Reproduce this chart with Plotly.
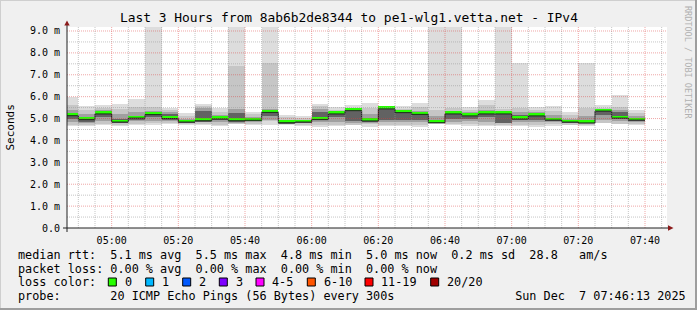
import plotly.graph_objects as go
import pandas as pd

# ---------------- data ----------------
bar_start = pd.date_range("2025-12-07 04:45:00", periods=35, freq="5min")
# per-interval ping distribution (ms): min, inner bands, median, max
p_min = [4.66, 4.66, 4.70, 4.66, 4.70, 4.72, 4.74, 4.70, 4.70, 4.66, 4.74, 4.70, 4.70, 4.70, 4.66, 4.63, 4.66, 4.70,
         4.63, 4.66, 4.66, 4.63, 4.74, 4.70, 4.66, 4.66, 4.66, 4.66, 4.63, 4.66, 4.70, 4.66, 4.78, 4.74, 4.70]
l2_lo = [4.72, 4.72, 4.76, 4.72, 4.76, 4.78, 4.80, 4.74, 4.76, 4.72, 4.76, 4.75, 4.90, 4.74, 4.72, 4.70, 4.72, 4.72,
         4.74, 4.72, 4.72, 4.70, 4.76, 4.75, 4.74, 4.72, 4.72, 4.72, 4.72, 4.75, 4.72, 4.72, 4.80, 4.76, 4.76]
l3_lo = [4.85, 4.80, 4.90, 4.78, 4.88, 4.90, 4.88, 4.78, 4.84, 4.85, 4.80, 4.84, 4.95, 4.77, 4.78, 4.85, 4.85, 4.80,
         4.80, 4.82, 4.85, 4.85, 4.78, 4.85, 4.88, 4.85, 4.78, 4.85, 4.85, 4.82, 4.78, 4.76, 4.95, 4.88, 4.84]
l4_lo = [5.00, 4.86, 5.08, 4.80, 4.95, 5.05, 4.92, 4.80, 4.86, 4.92, 4.85, 4.88, 5.10, 4.79, 4.81, 4.92, 5.05, 4.90,
         4.84, 4.95, 4.95, 4.95, 4.79, 5.00, 5.00, 5.05, 4.80, 4.92, 4.95, 4.88, 4.80, 4.78, 5.15, 4.98, 4.88]
median = [5.13, 4.95, 5.21, 4.84, 5.02, 5.18, 5.00, 4.84, 4.90, 4.98, 4.90, 4.92, 5.28, 4.81, 4.84, 4.95, 5.21, 5.36,
          4.89, 5.44, 5.27, 5.19, 4.81, 5.21, 5.12, 5.21, 5.21, 4.98, 5.12, 4.93, 4.84, 4.80, 5.34, 5.02, 4.93]
l4_hi = [5.25, 5.08, 5.30, 5.00, 5.12, 5.25, 5.20, 4.92, 5.35, 5.05, 5.25, 5.00, 5.40, 4.88, 4.90, 5.30, 5.25, 5.34,
         5.00, 5.46, 5.30, 5.25, 4.95, 5.27, 5.20, 5.30, 5.22, 5.15, 5.20, 5.02, 4.92, 4.92, 5.38, 5.30, 5.00]
l3_hi = [5.40, 5.20, 5.38, 5.20, 5.30, 5.35, 5.30, 5.00, 5.50, 5.15, 5.45, 5.08, 5.45, 4.95, 4.95, 5.45, 5.30, 5.42,
         5.20, 5.48, 5.35, 5.35, 5.10, 5.35, 5.30, 5.40, 5.30, 5.30, 5.30, 5.15, 5.00, 5.10, 5.42, 5.40, 5.10]
l2_hi = [5.62, 5.40, 5.50, 5.45, 5.55, 5.55, 5.40, 5.12, 5.58, 5.30, 7.40, 5.20, 7.55, 5.05, 5.02, 5.58, 5.40, 5.50,
         5.50, 5.52, 5.45, 5.55, 5.40, 5.50, 5.40, 5.60, 5.45, 5.50, 5.40, 5.35, 5.15, 5.50, 5.50, 5.55, 5.25]
p_max = [5.97, 5.57, 5.62, 5.66, 5.89, 9.60, 5.50, 5.24, 5.66, 5.47, 9.60, 5.31, 9.60, 5.16, 5.12, 5.66, 5.54, 5.62,
         5.70, 5.57, 5.57, 5.73, 9.60, 9.60, 5.51, 5.85, 9.60, 7.54, 5.51, 5.57, 5.30, 7.54, 5.62, 6.07, 5.39]

y_ticks = [0, 1, 2, 3, 4, 5, 6, 7, 8, 9]
y_ticktext = ["0.0", "1.0 m", "2.0 m", "3.0 m", "4.0 m", "5.0 m", "6.0 m", "7.0 m", "8.0 m", "9.0 m"]
x_ticks = pd.date_range("2025-12-07 05:00", "2025-12-07 07:40", freq="20min")
x_ticktext = [t.strftime("%H:%M") for t in x_ticks]

title = "Last 3 Hours from 8ab6b2de8344 to pe1-wlg1.vetta.net - IPv4"
legend_lines = [
    "median rtt:  5.1 ms avg  5.5 ms max  4.8 ms min  5.0 ms now  0.2 ms sd  28.8   am/s",
    "packet loss: 0.00 % avg  0.00 % max  0.00 % min  0.00 % now",
    "loss color:",
    "probe:       20 ICMP Echo Pings (56 Bytes) every 300s                 Sun Dec  7 07:46:13 2025",
]
loss_labels = ["0", "1", "2", "3", "4-5", "6-10", "11-19", "20/20"]
loss_colors = ["#26ff00", "#00b8ff", "#0059ff", "#7e00ff", "#ff00ff", "#ff5500", "#ff0000", "#a00000"]

# ---------------- layout constants ----------------
W, H = 697, 310
L, R, T, B = 67, 30, 27, 82
PW, PH = W - L - R, H - T - B
MONO = "DejaVu Sans Mono"


def px(x):
    return (x - L) / PW


def py(y):
    return (H - B - y) / PH


fig = go.Figure()
bar_w = 5 * 60 * 1000
layers = [(p_min, p_max, "#dddddd"), (l2_lo, l2_hi, "#c6c6c6"),
          (l3_lo, l3_hi, "#a0a0a0"), (l4_lo, l4_hi, "#626262")]
for lo, hi, col in layers:
    fig.add_trace(go.Bar(x=bar_start, base=lo, y=[h - l for l, h in zip(lo, hi)],
                         width=bar_w, offset=0, marker=dict(color=col, line=dict(width=0)),
                         hoverinfo="skip", showlegend=False))

# median step line (dark) and loss-coloured median band
end_t = bar_start[-1] + pd.Timedelta(minutes=5)
fig.add_trace(go.Scatter(x=list(bar_start) + [end_t], y=median + [median[-1]], mode="lines",
                         line=dict(color="#202020", width=1, shape="hv"), hoverinfo="skip", showlegend=False))
fig.add_trace(go.Bar(x=bar_start, base=[m - 0.015 for m in median], y=[0.13] * len(median),
                     width=bar_w, offset=0, marker=dict(color=loss_colors[0], line=dict(width=0)),
                     hoverinfo="skip", showlegend=False))

shapes = []
# grid on top of the data (dotted)
minor_c = "rgba(150,150,150,0.55)"
major_c = "rgba(220,60,60,0.45)"
for t in pd.date_range("2025-12-07 04:50", "2025-12-07 07:45", freq="5min"):
    c = major_c if t.minute % 20 == 0 else minor_c
    shapes.append(dict(type="line", xref="x", yref="paper", x0=t, x1=t, y0=0, y1=1,
                       line=dict(color=c, width=1, dash="1px,1px"), layer="above"))
for i in range(1, 19):
    v = i * 0.5
    c = major_c if i % 2 == 0 else minor_c
    shapes.append(dict(type="line", xref="paper", yref="y", x0=0, x1=1, y0=v, y1=v,
                       line=dict(color=c, width=1, dash="1px,1px"), layer="above"))

# axes lines + arrows
axis_c = "#202020"
arrow_c = "#8b1a1a"
shapes.append(dict(type="line", xref="paper", yref="paper", x0=px(67), x1=px(67), y0=py(232), y1=py(24),
                   line=dict(color=axis_c, width=1), layer="above"))
shapes.append(dict(type="line", xref="paper", yref="paper", x0=px(63), x1=px(670), y0=py(228), y1=py(228),
                   line=dict(color=axis_c, width=1), layer="above"))
shapes.append(dict(type="path", xref="paper", yref="paper",
                   path=f"M {px(64.3)},{py(25.5)} L {px(69.7)},{py(25.5)} L {px(67)},{py(20.5)} Z",
                   fillcolor=arrow_c, line=dict(width=0), layer="above"))
shapes.append(dict(type="path", xref="paper", yref="paper",
                   path=f"M {px(668)},{py(225.3)} L {px(668)},{py(230.7)} L {px(673.5)},{py(228)} Z",
                   fillcolor=arrow_c, line=dict(width=0), layer="above"))

# frame of the image
shapes.append(dict(type="line", xref="paper", yref="paper", x0=px(0), x1=px(W), y0=py(0.5), y1=py(0.5),
                   line=dict(color="#cfcfcf", width=1)))
shapes.append(dict(type="line", xref="paper", yref="paper", x0=px(0.5), x1=px(0.5), y0=py(0), y1=py(H),
                   line=dict(color="#cfcfcf", width=1)))
shapes.append(dict(type="line", xref="paper", yref="paper", x0=px(0), x1=px(W), y0=py(H - 1), y1=py(H - 1),
                   line=dict(color="#9e9e9e", width=2)))
shapes.append(dict(type="line", xref="paper", yref="paper", x0=px(W - 1), x1=px(W - 1), y0=py(0), y1=py(H),
                   line=dict(color="#9e9e9e", width=2)))

annotations = []


def text(x, y, s, size=11.8, anchor="left", color="#000000", angle=0):
    annotations.append(dict(x=px(x), y=py(y), xref="paper", yref="paper", text=s.replace(" ", "\u00a0"),
                            showarrow=False, xanchor=anchor, yanchor="middle", textangle=angle,
                            font=dict(family=MONO, size=size, color=color)))


text(348.5, 17.5, title, size=12.9, anchor="center")
text(10, 127.5, "Seconds", size=11, anchor="center", angle=-90)
text(688, 62, "RRDTOOL / TOBI OETIKER", size=8.5, anchor="center", color="#b0b0b0", angle=90)

line_y = [255, 268.5, 282, 295.5]
for s, yy in zip(legend_lines, line_y):
    text(15.5, yy, s)

box_x = [108.3, 145.7, 182.7, 219.3, 256, 307.3, 365, 430.7]
for bx, lab, col in zip(box_x, loss_labels, loss_colors):
    shapes.append(dict(type="rect", xref="paper", yref="paper", x0=px(bx), x1=px(bx + 8),
                       y0=py(286), y1=py(278), fillcolor=col, line=dict(color="#000000", width=1)))
    text(bx + 14.2, 282, lab)

fig.update_layout(
    width=W, height=H, margin=dict(l=L, r=R, t=T, b=B, pad=0),
    paper_bgcolor="#f0f0f0", plot_bgcolor="#ffffff",
    barmode="overlay", bargap=0, showlegend=False,
    shapes=shapes, annotations=annotations,
    xaxis=dict(type="date", range=["2025-12-07 04:46:36", "2025-12-07 07:46:36"],
               tickvals=list(x_ticks), ticktext=x_ticktext, showgrid=False, zeroline=False, showline=False,
               ticks="outside", ticklen=3, tickcolor="rgba(0,0,0,0)",
               tickfont=dict(family=MONO, size=10, color="#000000"), fixedrange=True),
    yaxis=dict(range=[0, (H - B - T) / 21.89], tickvals=y_ticks, ticktext=y_ticktext, showgrid=False,
               zeroline=False, showline=False, ticks="outside", ticklen=4, tickcolor="rgba(0,0,0,0)",
               tickfont=dict(family=MONO, size=10, color="#000000"), fixedrange=True),
)

fig.write_html("out.html", config={"displayModeBar": False})
